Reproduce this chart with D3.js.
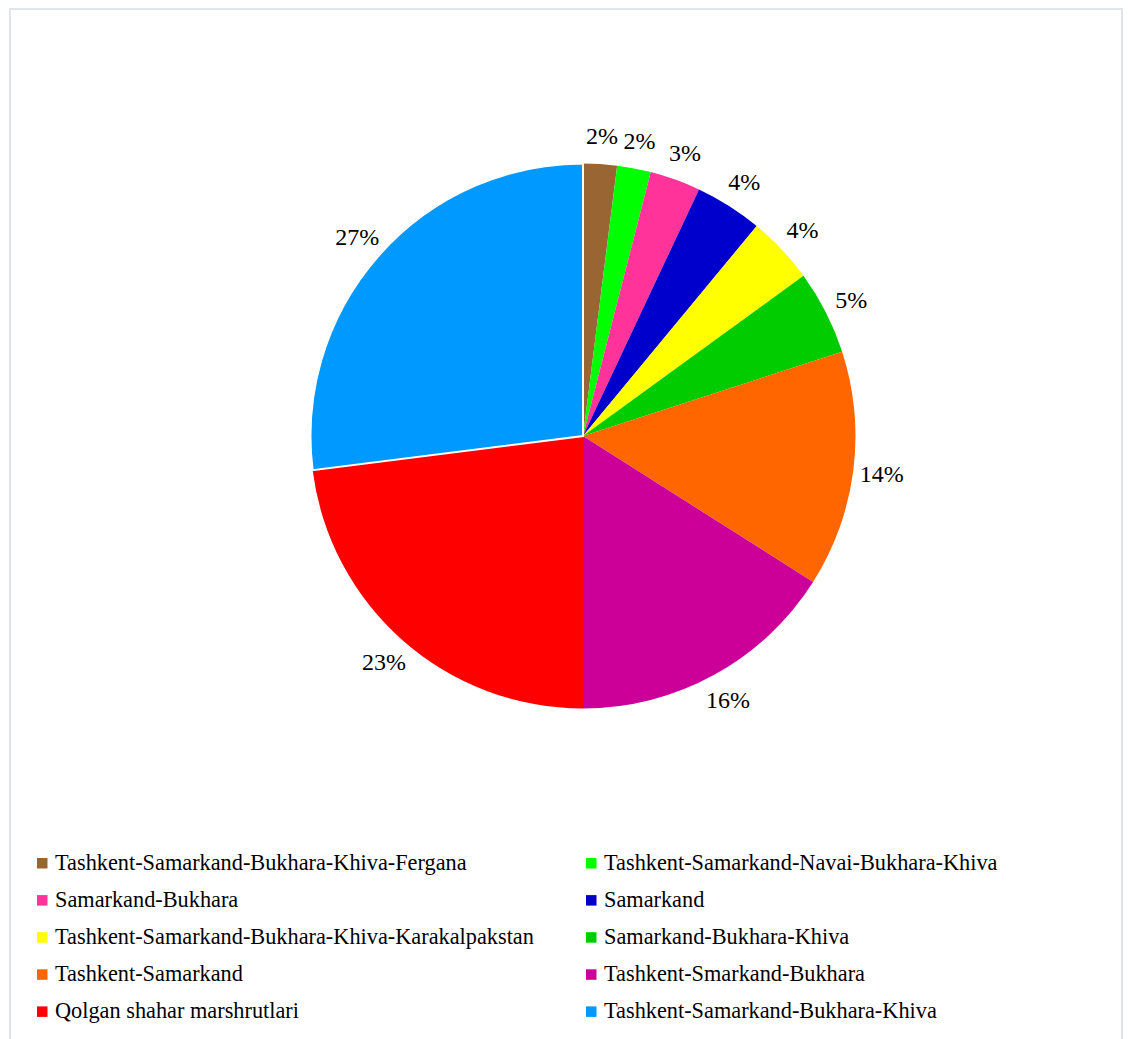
<!DOCTYPE html>
<html>
<head>
<meta charset="utf-8">
<script src="https://cdn.jsdelivr.net/npm/d3@7"></script>
<style>
    body { margin: 0; background: #fff; }
    text { font-family: "Liberation Serif", "Times New Roman", serif; fill: #000; }
</style>
</head>
<body>
<div id="main"></div>
<script>
const routes = [
    "Tashkent-Samarkand-Bukhara-Khiva-Fergana",
    "Tashkent-Samarkand-Navai-Bukhara-Khiva",
    "Samarkand-Bukhara",
    "Samarkand",
    "Tashkent-Samarkand-Bukhara-Khiva-Karakalpakstan",
    "Samarkand-Bukhara-Khiva",
    "Tashkent-Samarkand",
    "Tashkent-Smarkand-Bukhara",
    "Qolgan shahar marshrutlari",
    "Tashkent-Samarkand-Bukhara-Khiva"
];

const shares = [2, 2, 3, 4, 4, 5, 14, 16, 23, 27];

const colors = [
    "#996633", "#00ff00", "#ff3399", "#0000cc", "#ffff00",
    "#00cc00", "#ff6600", "#cc0099", "#ff0000", "#0099ff"
];

const width = 1129;
const height = 1039;
const cx = 583, cy = 436, radius = 272.5;

const svg = d3.select('#main').append('svg')
    .attr('width', width)
    .attr('height', height);

// light frame around the chart area
svg.append('rect')
    .attr('x', 10)
    .attr('y', 9)
    .attr('width', 1112)
    .attr('height', 1040)
    .style('fill', 'none')
    .style('stroke', '#e1e4ea')
    .style('stroke-width', 2);

const data = routes.map((name, i) => ({name: name, value: shares[i], color: colors[i]}));

const pie = d3.pie()
    .sort(null)
    .value(d => d.value);

const arcs = pie(data);

const arc = d3.arc()
    .innerRadius(0)
    .outerRadius(radius);

const g = svg.append('g')
    .attr('transform', 'translate(' + cx + ',' + cy + ')');

g.selectAll('.slice')
    .data(arcs)
    .enter()
    .append('path')
    .attr('class', 'slice')
    .attr('d', arc)
    .style('fill', d => d.data.color)
    .style('stroke', (d, i) => i === arcs.length - 1 ? '#fff' : 'none')
    .style('stroke-width', 2);

// percentage labels just outside the rim
const labelArc = d3.arc()
    .innerRadius(301)
    .outerRadius(301);

g.selectAll('.label')
    .data(arcs)
    .enter()
    .append('text')
    .attr('class', 'label')
    .attr('transform', d => 'translate(' + labelArc.centroid(d) + ')')
    .attr('text-anchor', 'middle')
    .attr('dy', '0.35em')
    .style('font-size', '24px')
    .text(d => d.data.value + '%');

// legend, two columns
const legendX = [37, 586];
const legendY0 = 862;
const rowStep = 37.1;

const legend = svg.selectAll('.legend')
    .data(data)
    .enter()
    .append('g')
    .attr('class', 'legend')
    .attr('transform', (d, i) => 'translate(' + legendX[i % 2] + ',' + (legendY0 + Math.floor(i / 2) * rowStep) + ')');

legend.append('rect')
    .attr('x', 0)
    .attr('y', -4)
    .attr('width', 10.5)
    .attr('height', 10.5)
    .style('fill', d => d.color);

legend.append('text')
    .attr('x', 18)
    .attr('y', 0)
    .attr('dy', '0.35em')
    .style('font-size', '22.3px')
    .text(d => d.name);
</script>
</body>
</html>
